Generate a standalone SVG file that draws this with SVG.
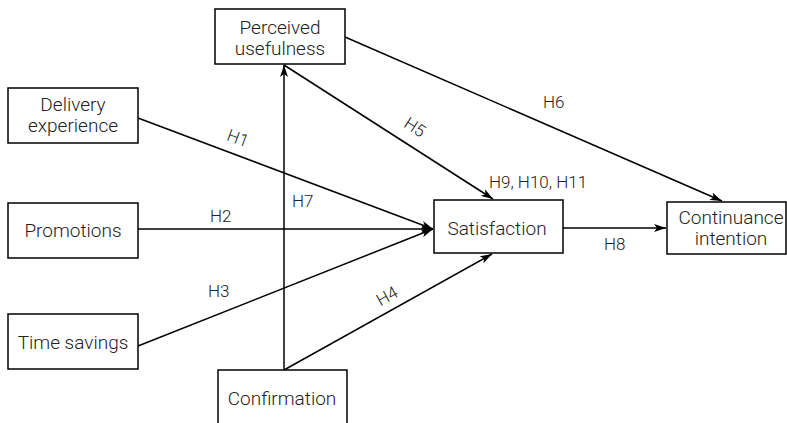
<svg xmlns="http://www.w3.org/2000/svg" width="787" height="423" viewBox="0 0 787 423">
<defs>
<marker id="arr" viewBox="0 0 12 8" refX="12" refY="4" markerWidth="12" markerHeight="8" markerUnits="userSpaceOnUse" orient="auto">
<path d="M0,0 L12,4 L0,8 L3,4 Z" fill="#000"/>
</marker>
</defs>
<style>
.box{fill:#fff;stroke:#000;stroke-width:1.5}
.t{font-family:Roboto,"Liberation Sans",sans-serif;font-weight:300;font-size:19px;fill:#222;text-anchor:middle}
.l{font-family:Roboto,"Liberation Sans",sans-serif;font-weight:300;font-size:17px;fill:#222}
.c{stroke:#000;stroke-width:1.5;fill:none;marker-end:url(#arr)}
</style>
<rect width="787" height="423" fill="#fff"/>
<g id="connectors">
<line class="c" x1="284" y1="370" x2="284" y2="65"/>
<line class="c" x1="284" y1="65" x2="493" y2="199"/>
<line class="c" x1="345" y1="37" x2="722" y2="201"/>
<line class="c" x1="138" y1="118" x2="433" y2="229"/>
<line class="c" x1="138" y1="229" x2="433" y2="229"/>
<line class="c" x1="138" y1="346" x2="433" y2="229"/>
<line class="c" x1="284" y1="370" x2="492" y2="254"/>
<line class="c" x1="563" y1="228" x2="666" y2="228"/>
</g>
<g id="labels">
<text class="l" transform="translate(238,138) rotate(20)" text-anchor="middle" dy="6">H1</text>
<text class="l" x="210" y="222">H2</text>
<text class="l" x="208" y="297">H3</text>
<text class="l" transform="translate(387,296) rotate(-29)" text-anchor="middle" dy="6">H4</text>
<text class="l" transform="translate(415,127) rotate(33)" text-anchor="middle" dy="6">H5</text>
<text class="l" x="543" y="108">H6</text>
<text class="l" x="292" y="207">H7</text>
<text class="l" x="604" y="250">H8</text>
<text class="l" x="489" y="188">H9, H10, H11</text>
</g>
<g id="perceived-usefulness">
<rect class="box" x="215" y="9" width="130" height="55"/>
<text class="t" x="280" y="34">Perceived</text>
<text class="t" x="280" y="55">usefulness</text>
</g>
<g id="delivery-experience">
<rect class="box" x="8" y="88" width="130" height="55"/>
<text class="t" x="73" y="111">Delivery</text>
<text class="t" x="73" y="132">experience</text>
</g>
<g id="promotions">
<rect class="box" x="8" y="203" width="130" height="55"/>
<text class="t" x="73" y="237">Promotions</text>
</g>
<g id="time-savings">
<rect class="box" x="8" y="314" width="130" height="55"/>
<text class="t" x="73" y="349">Time savings</text>
</g>
<g id="confirmation">
<rect class="box" x="218" y="370" width="129" height="60"/>
<text class="t" x="282" y="405">Confirmation</text>
</g>
<g id="satisfaction">
<rect class="box" x="434" y="200" width="129" height="53"/>
<text class="t" x="497" y="235">Satisfaction</text>
</g>
<g id="continuance-intention">
<rect class="box" x="667" y="202" width="119" height="52"/>
<text class="t" x="731" y="224">Continuance</text>
<text class="t" x="731" y="245">intention</text>
</g>
</svg>
